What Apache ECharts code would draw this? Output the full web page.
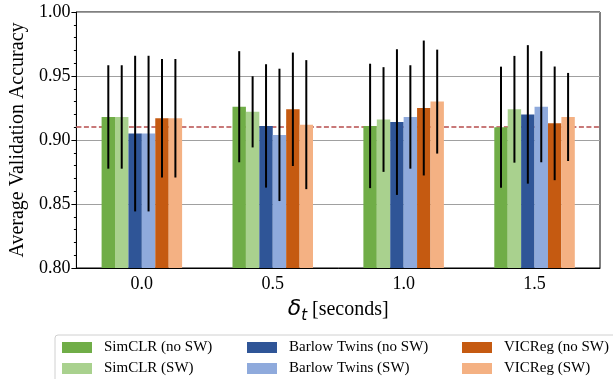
<!DOCTYPE html>
<html>
<head>
<meta charset="utf-8">
<script src="https://cdn.jsdelivr.net/npm/echarts@6/dist/echarts.min.js"></script>
<style>
  html, body { margin: 0; padding: 0; background: #fff; }
  #chart { width: 613px; height: 379px; }
</style>
</head>
<body>
<div id="chart"></div>
<script>
const categories = ['0.0', '0.5', '1.0', '1.5']
const seriesNames = [
  'SimCLR (no SW)', 'SimCLR (SW)',
  'Barlow Twins (no SW)', 'Barlow Twins (SW)',
  'VICReg (no SW)', 'VICReg (SW)',
]
const colors = ['#70ad47', '#a9d18e', '#2f5597', '#8faadc', '#c55a11', '#f4b183']

// mean accuracy per delta_t
const simclrNoSW = [0.918, 0.926, 0.911, 0.910]
const simclrSW = [0.918, 0.922, 0.916, 0.924]
const barlowNoSW = [0.905, 0.911, 0.914, 0.920]
const barlowSW = [0.905, 0.904, 0.918, 0.926]
const vicregNoSW = [0.917, 0.924, 0.925, 0.913]
const vicregSW = [0.917, 0.912, 0.930, 0.918]

// std (error bar half length)
const simclrNoSWErr = [0.0404, 0.0434, 0.0486, 0.0473]
const simclrSWErr = [0.0404, 0.0278, 0.0409, 0.0417]
const barlowNoSWErr = [0.0608, 0.0482, 0.0569, 0.0541]
const barlowSWErr = [0.0608, 0.0517, 0.0404, 0.0434]
const vicregNoSWErr = [0.0463, 0.0443, 0.0527, 0.0444]
const vicregSWErr = [0.0463, 0.0504, 0.0406, 0.0344]

const baseline = 0.9083

const means = [simclrNoSW, simclrSW, barlowNoSW, barlowSW, vicregNoSW, vicregSW]
const errs = [simclrNoSWErr, simclrSWErr, barlowNoSWErr, barlowSWErr, vicregNoSWErr, vicregSWErr]

const CAT_GAP = 0.385
const SERIF = '"Liberation Serif", "DejaVu Serif", serif'

const barSeries = means.map((vals, k) => ({
  name: seriesNames[k],
  type: 'bar',
  data: vals,
  barGap: '0%',
  barCategoryGap: (CAT_GAP * 100) + '%',
  itemStyle: { color: colors[k] },
  z: 2,
}))

// error bars, drawn at the centre of each grouped bar
const errSeries = means.map((vals, k) => ({
  type: 'custom',
  data: vals.map((m, i) => [i, m - errs[k][i], m + errs[k][i]]),
  z: 5,
  silent: true,
  renderItem: (params, api) => {
    const band = api.size([1, 0])[0]
    const groupW = band * (1 - CAT_GAP)
    const bw = groupW / means.length
    const off = -groupW / 2 + bw * (k + 0.5)
    const lo = api.coord([api.value(0), api.value(1)])
    const hi = api.coord([api.value(0), api.value(2)])
    return {
      type: 'line',
      shape: { x1: lo[0] + off, y1: lo[1], x2: hi[0] + off, y2: hi[1] },
      style: { stroke: '#000', lineWidth: 2 },
    }
  },
}))

const lineSeries = {
  type: 'line',
  data: [],
  markLine: {
    silent: true,
    symbol: 'none',
    z: 1,
    label: { show: false },
    lineStyle: { color: '#c87878', type: [5, 2.5], width: 1.8 },
    data: [{ yAxis: baseline }],
  },
}

const legendCols = [0, 1, 2].map((c) => ({
  orient: 'vertical',
  left: [62, 247, 462][c],
  top: 340,
  padding: 0,
  itemWidth: 30,
  itemHeight: 11,
  itemGap: 6,
  icon: 'rect',
  selectedMode: false,
  data: seriesNames.slice(c * 2, c * 2 + 2),
  textStyle: { fontFamily: SERIF, fontSize: 15, color: '#000', padding: [0, 0, 0, 7] },
}))

const chart = echarts.init(document.getElementById('chart'), null, { renderer: 'canvas' })
chart.setOption({
  backgroundColor: '#fff',
  animation: false,
  grid: {
    left: 73, right: 13, top: 12, bottom: 111,
    show: true, borderColor: '#000', borderWidth: 1, backgroundColor: 'transparent',
  },
  legend: legendCols,
  graphic: [{
    type: 'rect',
    shape: { x: 55, y: 335, width: 600, height: 60, r: 3 },
    style: { fill: 'none', stroke: '#d0d0d0', lineWidth: 1 },
    z: -1,
  }],
  xAxis: {
    type: 'category',
    data: categories,
    axisLine: { lineStyle: { color: '#000' } },
    axisTick: { alignWithLabel: true, length: 5, lineStyle: { color: '#000' } },
    axisLabel: { fontFamily: SERIF, fontSize: 18, color: '#000', margin: 7 },
    name: '{d|δ}{t|t}{s| [seconds]}',
    nameLocation: 'middle',
    nameGap: 26,
    nameTextStyle: {
      rich: {
        d: { fontFamily: 'DejaVu Sans', fontStyle: 'italic', fontSize: 22, color: '#000', lineHeight: 26, verticalAlign: 'bottom' },
        t: { fontFamily: 'DejaVu Sans', fontStyle: 'italic', fontSize: 15, color: '#000', lineHeight: 26, verticalAlign: 'bottom', padding: [0, 0, -4, 0] },
        s: { fontFamily: SERIF, fontSize: 20, color: '#000', lineHeight: 26, verticalAlign: 'bottom' },
      },
    },
  },
  yAxis: {
    type: 'value',
    min: 0.8,
    max: 1.0,
    interval: 0.05,
    axisLine: { show: true, lineStyle: { color: '#000' } },
    axisTick: { show: true, length: 5, lineStyle: { color: '#000' } },
    minorTick: { show: true, splitNumber: 5, length: 2.5, lineStyle: { color: '#000' } },
    splitLine: { show: true, lineStyle: { color: '#a0a0a0', width: 1.2 } },
    axisLabel: { fontFamily: SERIF, fontSize: 18, color: '#000', margin: 6, formatter: (v) => v.toFixed(2) },
    name: 'Average Validation Accuracy',
    nameLocation: 'middle',
    nameGap: 43,
    nameTextStyle: { fontFamily: SERIF, fontSize: 20, color: '#000' },
  },
  series: [lineSeries, ...barSeries, ...errSeries],
})
</script>
</body>
</html>
